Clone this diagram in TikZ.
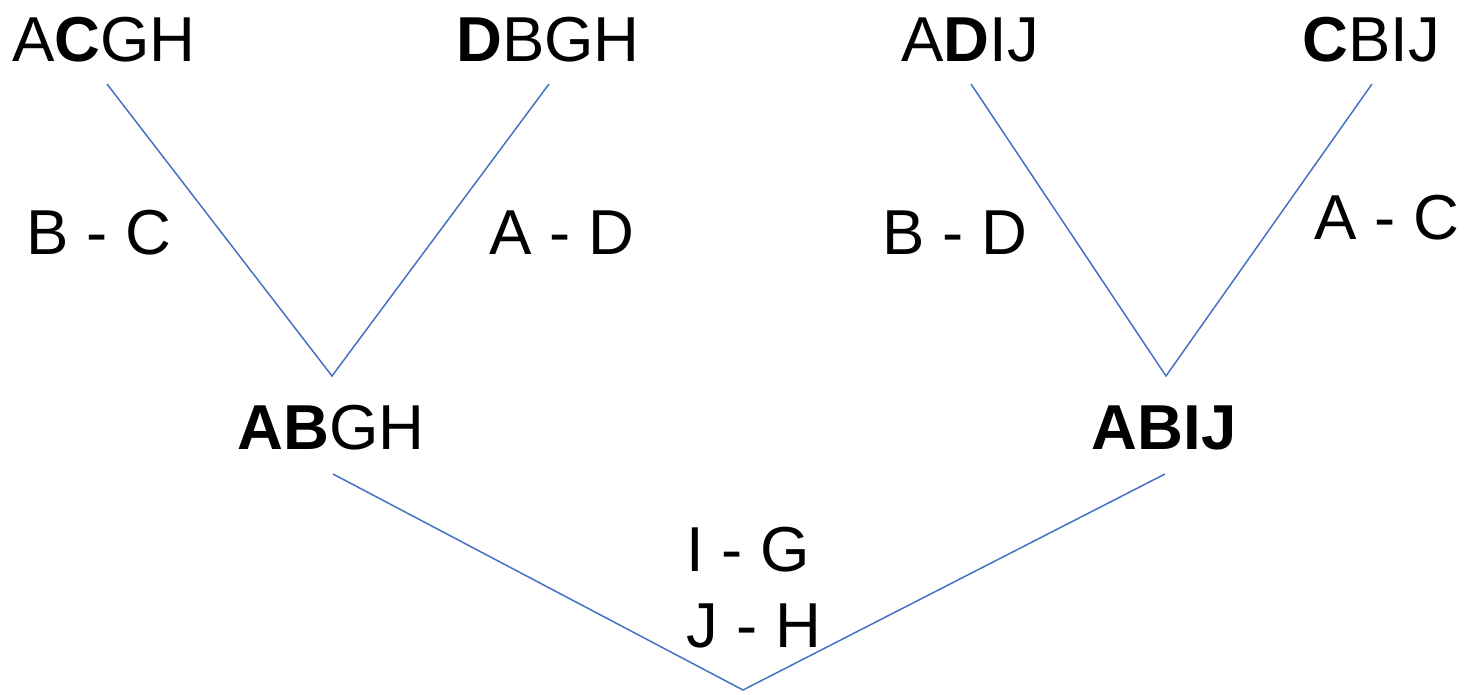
\documentclass[tikz,border=0pt]{standalone}
\usepackage{fontspec}
\setmainfont{Liberation Sans}
\definecolor{linkblue}{RGB}{68,114,196}
\begin{document}
\begin{tikzpicture}[x=1pt,y=-1pt,
  lbl/.style={inner sep=0pt,anchor=center,font=\fontsize{63.5}{76}\selectfont},
  link/.style={draw=linkblue,line width=1.5pt}]
\useasboundingbox (0,0) rectangle (1466,694);
% top texts
\node[lbl] (acgh) at (104,40) {A\textbf{C}GH};
\node[lbl] (dbgh) at (548,40) {\textbf{D}BGH};
\node[lbl] (adij) at (970,40) {A\textbf{D}IJ};
\node[lbl] (cbij) at (1371,40) {\textbf{C}BIJ};
% middle texts
\node[lbl] (abgh) at (331,428) {\textbf{AB}GH};
\node[lbl] (abij) at (1164,428) {\textbf{ABIJ}};
% edge labels
\node[lbl] (bc) at (99,233) {B - C};
\node[lbl] (ad) at (562,233) {A - D};
\node[lbl] (bd) at (955,233) {B - D};
\node[lbl] (ac) at (1387,218) {A - C};
\node[lbl] (ig) at (748,550) {I - G};
\node[lbl] (jh) at (754,626) {J - H};
% connector end points
\coordinate (acgh-e) at (107,84);
\coordinate (dbgh-e) at (549,84);
\coordinate (adij-e) at (971,84);
\coordinate (cbij-e) at (1372,84);
\coordinate (abgh-t) at (332,376);
\coordinate (abij-t) at (1166,376);
\coordinate (abgh-b) at (333,474);
\coordinate (abij-b) at (1165,474);
\coordinate (root) at (743,690);
% connectors
\draw[link] (acgh-e) -- (abgh-t) -- (dbgh-e);
\draw[link] (adij-e) -- (abij-t) -- (cbij-e);
\draw[link] (abgh-b) -- (root) -- (abij-b);
\end{tikzpicture}
\end{document}
